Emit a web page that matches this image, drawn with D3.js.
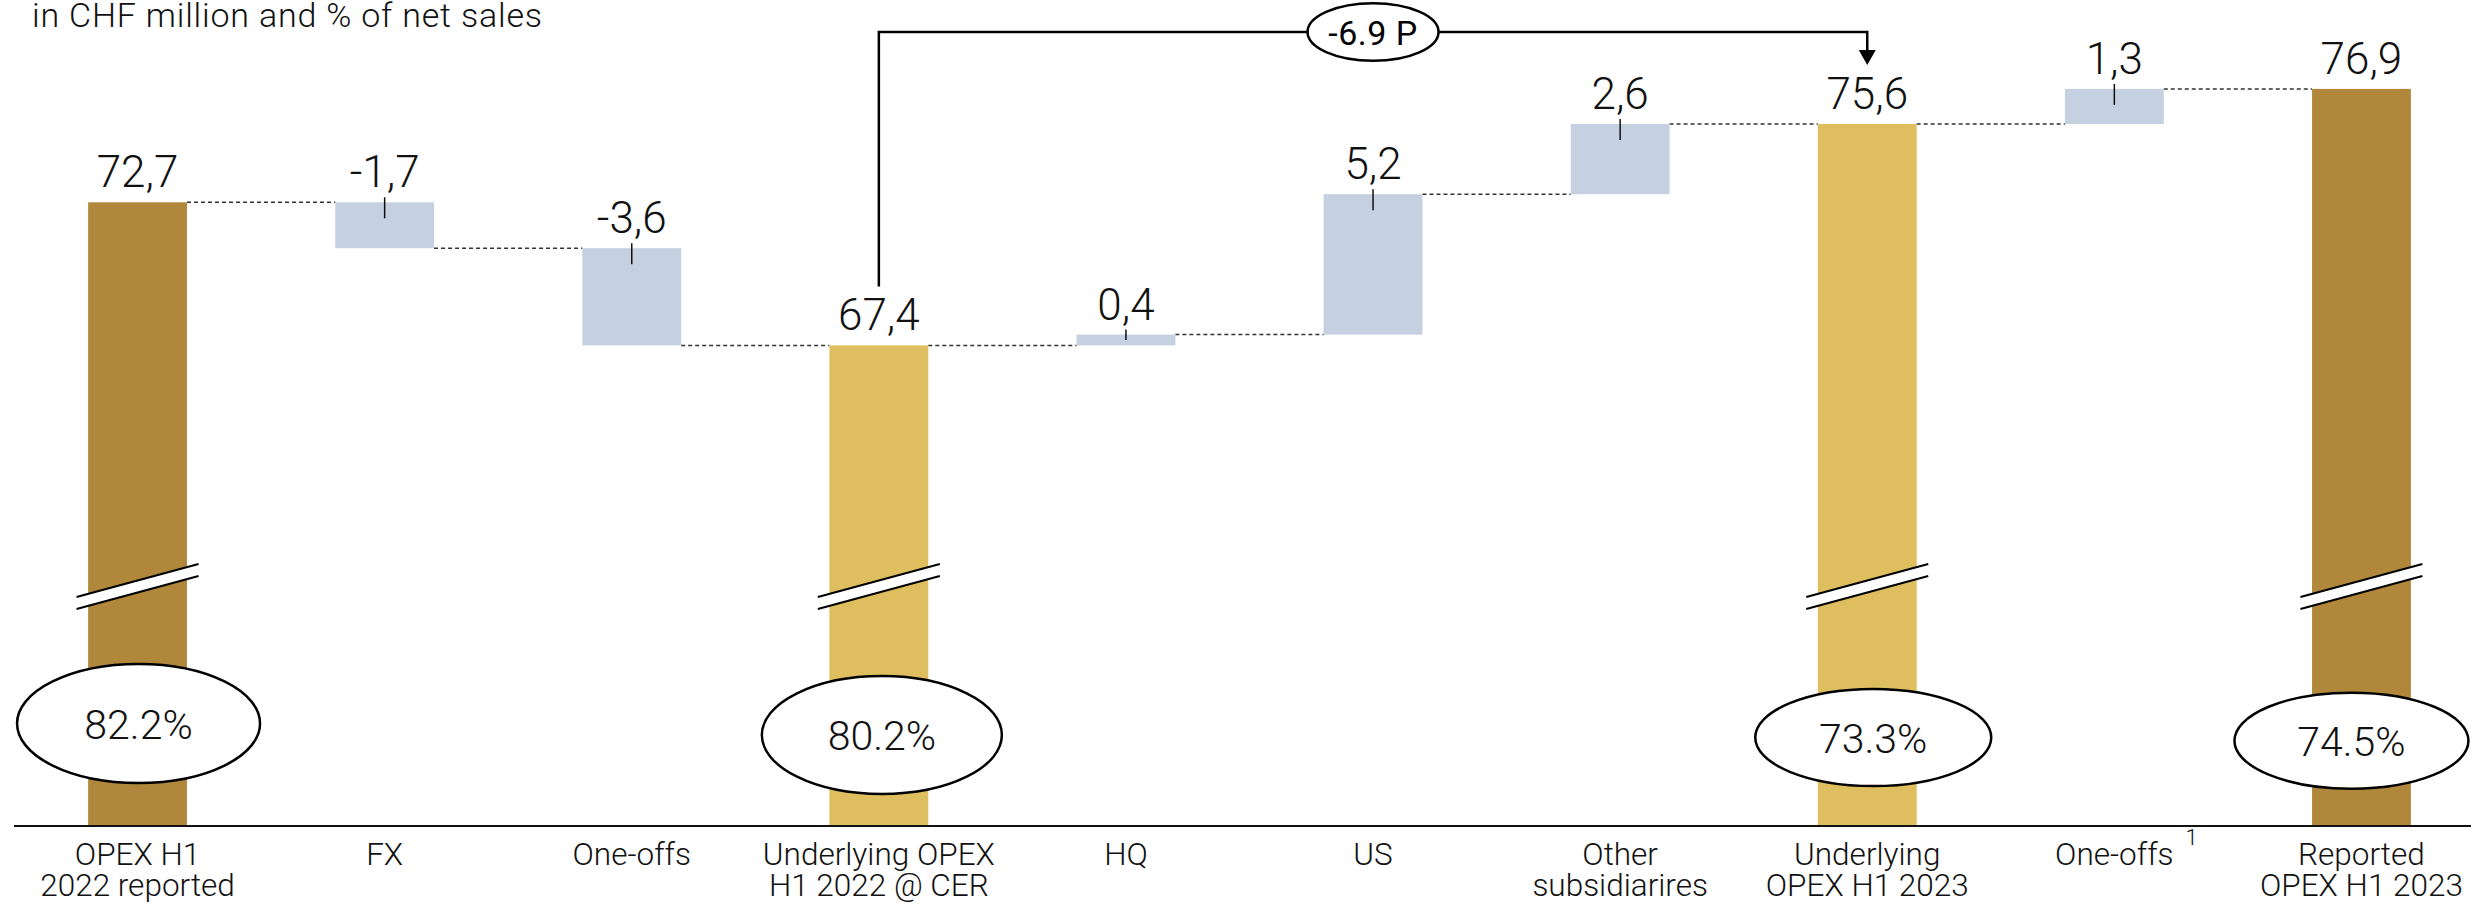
<!DOCTYPE html>
<html>
<head>
<meta charset="utf-8">
<script src="https://cdn.jsdelivr.net/npm/d3@7"></script>
<style>
  html, body { margin: 0; padding: 0; background: #ffffff; }
  svg { display: block; font-family: Roboto, "Noto Sans", sans-serif; }
</style>
</head>
<body>
<svg id="chart" width="2471" height="909"></svg>
<script>
// ---------------- DATA ----------------
const subtitle = "in CHF million and % of net sales";
const categories = [
  ["OPEX H1", "2022 reported"],
  ["FX"],
  ["One-offs"],
  ["Underlying OPEX", "H1 2022 @ CER"],
  ["HQ"],
  ["US"],
  ["Other", "subsidiarires"],
  ["Underlying", "OPEX H1 2023"],
  ["One-offs"],
  ["Reported", "OPEX H1 2023"]
];
const values = [72.7, -1.7, -3.6, 67.4, 0.4, 5.2, 2.6, 75.6, 1.3, 76.9];
const barTypes = ["reported", "delta", "delta", "underlying", "delta", "delta", "delta", "underlying", "delta", "reported"];
const footnotes = ["", "", "", "", "", "", "", "", "1", ""];
const marginPct = [82.2, null, null, 80.2, null, null, null, 73.3, null, 74.5];
const bracketFrom = 3, bracketTo = 7;
const bracketLabel = "-6.9 P";

// ---------------- LAYOUT ----------------
const W = 2471, H = 909;
const axisY = 826;
const colors = { reported: "#B0873B", underlying: "#DEBE5E", delta: "#C5D0E1" };
const ellipseLayout = { // by category index: dx from bar centre, cy, rx, ry
  0: [1, 723.5, 121.5, 59.5],
  3: [3, 735, 120, 59],
  7: [6, 737.5, 118, 48.5],
  9: [-10, 740.7, 117, 48]
};
const breakCY = 586.5;

const svg = d3.select("#chart");
const locale = d3.formatLocale({ decimal: ",", thousands: ".", grouping: [3], currency: ["", ""], minus: "-" });
const fmt = locale.format(".1f");

const x = d3.scaleBand()
  .domain(d3.range(categories.length))
  .range([14, 2485])
  .paddingInner(0.6)
  .paddingOuter(0.3);
const y = d3.scaleLinear().domain([49.6, 80]).range([axisY, axisY - 30.4 * 27.0]);

// compute waterfall segments
let running = 0;
const bars = values.map((v, i) => {
  let start, end;
  if (barTypes[i] === "delta") { start = running; end = running + v; }
  else { start = y.domain()[0]; end = v; }
  running = barTypes[i] === "delta" ? end : v;
  return { i, v, type: barTypes[i], start, end, top: Math.max(start, end), bot: Math.min(start, end), total: running };
});

// subtitle
svg.append("text")
  .attr("x", 32).attr("y", 27)
  .attr("font-size", 34).attr("font-weight", 300).attr("fill", "#111")
  .attr("letter-spacing", 0.8)
  .text(subtitle);

// connectors
const conn = svg.append("g");
bars.slice(0, -1).forEach((b, k) => {
  conn.append("line")
    .attr("x1", x(k) + x.bandwidth()).attr("x2", x(k + 1))
    .attr("y1", y(b.total)).attr("y2", y(b.total))
    .attr("stroke", "#333").attr("stroke-width", 1.5)
    .attr("stroke-dasharray", "4,3");
});

// bars
svg.append("g").selectAll("rect").data(bars).join("rect")
  .attr("x", d => x(d.i))
  .attr("width", x.bandwidth())
  .attr("y", d => y(d.top))
  .attr("height", d => y(d.bot) - y(d.top))
  .attr("fill", d => colors[d.type]);

// axis break marks on total bars
const brk = svg.append("g");
bars.filter(d => d.type !== "delta").forEach(d => {
  const cx = x(d.i) + x.bandwidth() / 2;
  const hw = 61, dy = 16.5, gap = 12;
  const x1 = cx - hw, x2 = cx + hw;
  const ya1 = breakCY + dy - gap / 2, ya2 = breakCY - dy - gap / 2;
  brk.append("polygon")
    .attr("points", `${x1},${ya1} ${x2},${ya2} ${x2},${ya2 + gap} ${x1},${ya1 + gap}`)
    .attr("fill", "#fff");
  [0, gap].forEach(o => {
    brk.append("line")
      .attr("x1", x1).attr("y1", ya1 + o).attr("x2", x2).attr("y2", ya2 + o)
      .attr("stroke", "#000").attr("stroke-width", 2);
  });
});

// value labels + ticks
const lab = svg.append("g");
bars.forEach(d => {
  const cx = x(d.i) + x.bandwidth() / 2;
  const yt = y(d.top);
  lab.append("text")
    .attr("x", cx).attr("y", yt - 15)
    .attr("text-anchor", "middle")
    .attr("font-size", 44).attr("font-weight", 300).attr("fill", "#111")
    .text(fmt(d.v));
  if (d.type === "delta") {
    const mid = (y(d.top) + y(d.bot)) / 2;
    lab.append("line")
      .attr("x1", cx).attr("x2", cx)
      .attr("y1", yt - 5).attr("y2", Math.min(yt + 16, mid))
      .attr("stroke", "#111").attr("stroke-width", 1.5);
  }
});

// baseline axis
svg.append("line")
  .attr("x1", 14).attr("x2", W).attr("y1", axisY).attr("y2", axisY)
  .attr("stroke", "#111").attr("stroke-width", 2);

// category labels
const cat = svg.append("g");
categories.forEach((lines, i) => {
  const cx = x(i) + x.bandwidth() / 2;
  const t = cat.append("text")
    .attr("text-anchor", "middle")
    .attr("font-size", 31.5).attr("font-weight", 300).attr("fill", "#111");
  lines.forEach((ln, k) => {
    t.append("tspan").attr("x", cx).attr("y", 865 + k * 31).text(ln);
  });
  if (footnotes[i]) {
    const w = t.node().getComputedTextLength();
    cat.append("text")
      .attr("x", cx + w / 2 + 12).attr("y", 845)
      .attr("font-size", 22).attr("font-weight", 300).attr("fill", "#111")
      .text(footnotes[i]);
  }
});

// margin ellipses
const ell = svg.append("g");
marginPct.forEach((p, i) => {
  if (p == null) return;
  const [dx, cy, rx, ry] = ellipseLayout[i];
  const cx = x(i) + x.bandwidth() / 2 + dx;
  ell.append("ellipse")
    .attr("cx", cx).attr("cy", cy).attr("rx", rx).attr("ry", ry)
    .attr("fill", "#fff").attr("stroke", "#000").attr("stroke-width", 2.5);
  ell.append("text")
    .attr("x", cx).attr("y", cy + 1)
    .attr("text-anchor", "middle").attr("dominant-baseline", "central")
    .attr("font-size", 41).attr("font-weight", 300).attr("fill", "#111")
    .text(p.toFixed(1) + "%");
});

// bracket annotation
const bx1 = x(bracketFrom) + x.bandwidth() / 2;
const bx2 = x(bracketTo) + x.bandwidth() / 2;
const by = 32;
const startY = y(values[bracketFrom]) - 15 - 32 - 12;
const tipY = y(values[bracketTo]) - 15 - 32 - 12;
const br = svg.append("g");
br.append("path")
  .attr("d", `M${bx1},${startY} V${by} H${bx2} V${tipY - 14}`)
  .attr("fill", "none").attr("stroke", "#000").attr("stroke-width", 2.5);
br.append("polygon")
  .attr("points", `${bx2 - 8.5},${tipY - 15} ${bx2 + 8.5},${tipY - 15} ${bx2},${tipY}`)
  .attr("fill", "#000");
const bmx = (bx1 + bx2) / 2;
br.append("ellipse")
  .attr("cx", bmx).attr("cy", by).attr("rx", 65.5).attr("ry", 28.8)
  .attr("fill", "#fff").attr("stroke", "#000").attr("stroke-width", 2.5);
br.append("text")
  .attr("x", bmx).attr("y", by + 1)
  .attr("text-anchor", "middle").attr("dominant-baseline", "central")
  .attr("font-size", 34).attr("font-weight", 400).attr("fill", "#000")
  .attr("letter-spacing", 0.5)
  .text(bracketLabel);
</script>
</body>
</html>
